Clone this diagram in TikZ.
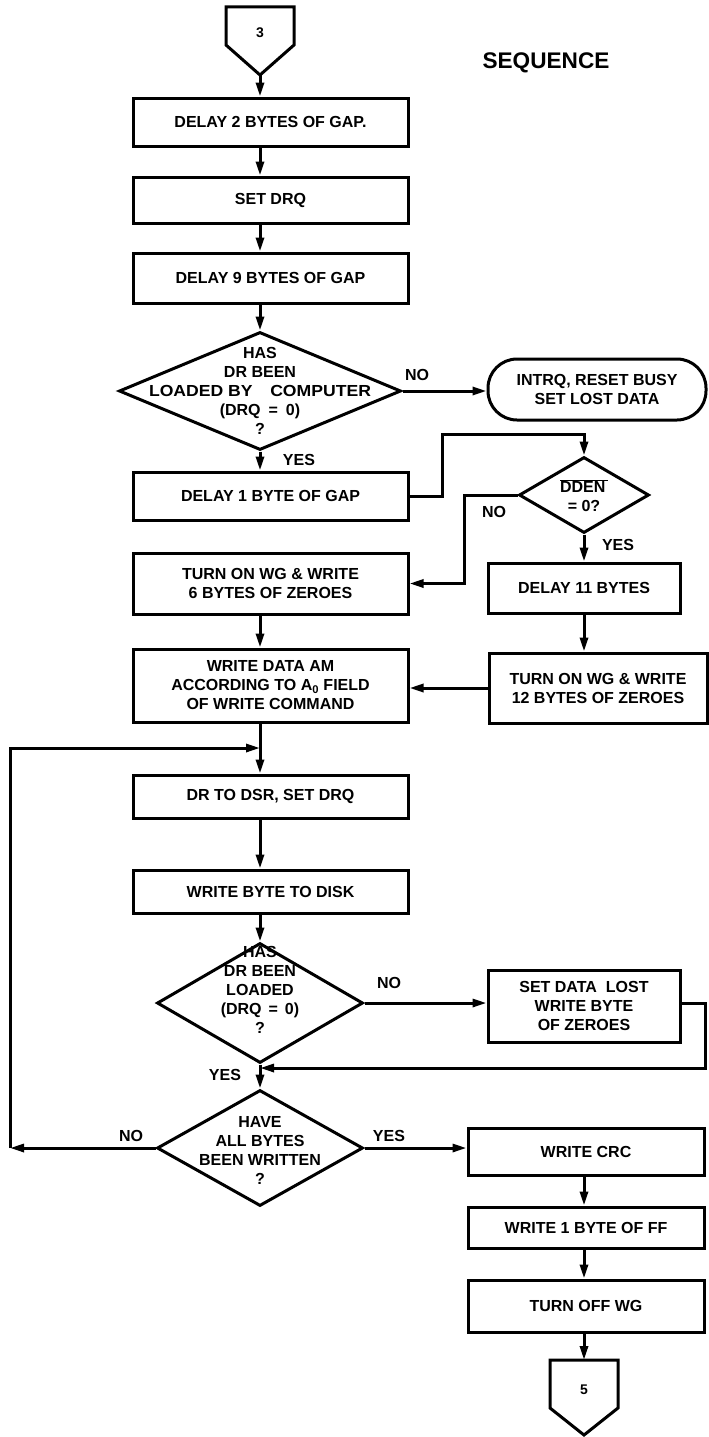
\documentclass[tikz,border=0pt]{standalone}
\usepackage{fontspec}
\usepackage{graphicx}
\setmainfont{Liberation Sans}
\usetikzlibrary{arrows.meta,shapes.geometric,calc}
\begin{document}
\begin{tikzpicture}[x=1pt,y=-1pt,line width=3pt,line join=miter,
  tfont/.style={font=\bfseries\fontsize{16}{19}\selectfont},
  box/.style={draw,rectangle,inner sep=0pt,align=center,tfont},
  dia/.style={draw,diamond,inner sep=0pt},
  txt/.style={align=center,inner sep=0pt,tfont},
  lbl/.style={inner sep=0pt,tfont},
  arr/.style={-{Triangle[length=14pt,width=8pt]}}]
\useasboundingbox (0,0) rectangle (709,1437);
\coordinate (M) at (260,0);
\coordinate (R) at (584,0);
% entry connector
\coordinate (c3tip) at (260,75);
\draw (226,7) -- (294,7) -- (294,45) -- (c3tip) -- (226,45) -- cycle;
\node[lbl,font=\bfseries\fontsize{14}{14}\selectfont] (c3) at (260,33) {3};
\node[inner sep=0pt,font=\bfseries\fontsize{22.6}{24}\selectfont] (seq) at (546,63) {SEQUENCE};
% main column
\node[box,minimum width=275pt,minimum height=48pt] (A) at (270.5,122) {DELAY 2 BYTES OF GAP.};
\node[box,minimum width=275pt,minimum height=46pt] (B) at (270.5,200) {SET DRQ};
\node[box,minimum width=275pt,minimum height=50pt] (C) at (270.5,278) {DELAY 9 BYTES OF GAP};
\node[dia,minimum width=282pt,minimum height=118pt] (D1) at (260,391) {};
\node[txt] (D1t) at (260,391) {HAS\\DR BEEN\\\scalebox{1.1}[1]{LOADED BY\hspace{16pt}COMPUTER}\\(DRQ\hspace{8pt}=\hspace{8pt}0)\\?};
\node[box,rounded corners=29pt,minimum width=218pt,minimum height=61pt] (T) at (597,389.5) {INTRQ, RESET BUSY\\SET LOST DATA};
\node[box,minimum width=275pt,minimum height=48pt] (E) at (270.5,496) {DELAY 1 BYTE OF GAP};
\node[dia,minimum width=130pt,minimum height=76pt] (DD) at (584,495) {};
\node[txt] (DDt) at (584,496) {$\overline{\hbox{DDEN\,}}$\\= 0?};
\node[box,minimum width=275pt,minimum height=61pt] (F) at (270.5,583.5) {TURN ON WG \& WRITE\\6 BYTES OF ZEROES};
\node[box,minimum width=192pt,minimum height=50pt] (G) at (584,588) {DELAY 11 BYTES};
\node[box,minimum width=275pt,minimum height=73pt] (WD) at (270.5,685.5) {WRITE DATA AM\\ACCORDING TO A\textsubscript{0} FIELD\\OF WRITE COMMAND};
\node[box,minimum width=218pt,minimum height=70pt] (H) at (598,688) {TURN ON WG \& WRITE\\12 BYTES OF ZEROES};
\node[box,minimum width=275pt,minimum height=43pt] (DR) at (270.5,796.5) {DR TO DSR, SET DRQ};
\node[box,minimum width=275pt,minimum height=43pt] (WB) at (270.5,891.5) {WRITE BYTE TO DISK};
\node[dia,minimum width=206pt,minimum height=120pt] (D2) at (260,1003) {};
\node[txt] (D2t) at (260,990) {HAS\\DR BEEN\\LOADED\\(DRQ\hspace{7pt}=\hspace{7pt}0)\\?};
\node[box,minimum width=192pt,minimum height=72pt] (SDL) at (584,1006) {SET DATA\hspace{9pt}LOST\\WRITE BYTE\\OF ZEROES};
\node[dia,minimum width=206pt,minimum height=116pt] (D3) at (260,1148) {};
\node[txt] (D3t) at (260,1150) {HAVE\\ALL BYTES\\BEEN WRITTEN\\?};
\node[box,minimum width=236pt,minimum height=47pt] (CRC) at (586,1151.5) {WRITE CRC};
\node[box,minimum width=236pt,minimum height=41pt] (FF) at (586,1227.5) {WRITE 1 BYTE OF FF};
\node[box,minimum width=236pt,minimum height=52pt] (OFF) at (586,1306) {TURN OFF WG};
% exit connector
\coordinate (c5top) at (584,1360);
\coordinate (c5tip) at (584,1435);
\draw (550,1360) -- (618,1360) -- (618,1408) -- (c5tip) -- (550,1408) -- cycle;
\node[lbl,font=\bfseries\fontsize{14}{14}\selectfont] (c5) at (584,1390) {5};
% labels
\node[lbl] (no1) at (417,375) {NO};
\node[lbl] (yes1) at (299,460) {YES};
\node[lbl] (no2) at (494,512) {NO};
\node[lbl] (yes2) at (618,545) {YES};
\node[lbl] (no3) at (389,983) {NO};
\node[lbl] (yes3) at (225,1075) {YES};
\node[lbl] (no4) at (131,1136) {NO};
\node[lbl] (yes4) at (389,1136) {YES};
% connectors
\coordinate (loopJ) at (260,748);
\coordinate (loopL) at (10,0);
\coordinate (retJ) at (260,1068);
\draw[arr] (c3tip) -- (A.north -| M);
\draw[arr] (A.south -| M) -- (B.north -| M);
\draw[arr] (B.south -| M) -- (C.north -| M);
\draw[arr] (C.south -| M) -- (D1.north);
\draw[arr] (D1.east) -- (D1.east -| T.west);
\draw[arr] (D1.south) -- (E.north -| M);
\draw[arr] (E.east) -- ++(33,0) |- ($(DD.north)+(0,-21)$) -- (DD.north);
\draw[arr] (DD.west) -- ++(-53,0) |- (F.east);
\draw[arr] (DD.south) -- (G.north);
\draw[arr] (F.south -| M) -- (WD.north -| M);
\draw[arr] (G.south) -- (H.north -| R);
\draw[arr] (H.west) -- (H.west -| WD.east);
\draw[arr] (WD.south -| M) -- (DR.north -| M);
\draw[arr] (D3.west) -- (D3.west -| loopL);
\draw[arr] (D3.west -| loopL) |- (loopJ);
\draw[arr] (DR.south -| M) -- (WB.north -| M);
\draw[arr] (WB.south -| M) -- (D2.north);
\draw[arr] (D2.east) -- (D2.east -| SDL.west);
\draw[arr] (SDL.east |- D2.east) -- ++(24,0) |- (retJ);
\draw[arr] (D2.south) -- (D3.north);
\draw[arr] (D3.east) -- (D3.east -| CRC.west);
\draw[arr] (CRC.south -| R) -- (FF.north -| R);
\draw[arr] (FF.south -| R) -- (OFF.north -| R);
\draw[arr] (OFF.south -| R) -- (c5top);
\end{tikzpicture}
\end{document}
